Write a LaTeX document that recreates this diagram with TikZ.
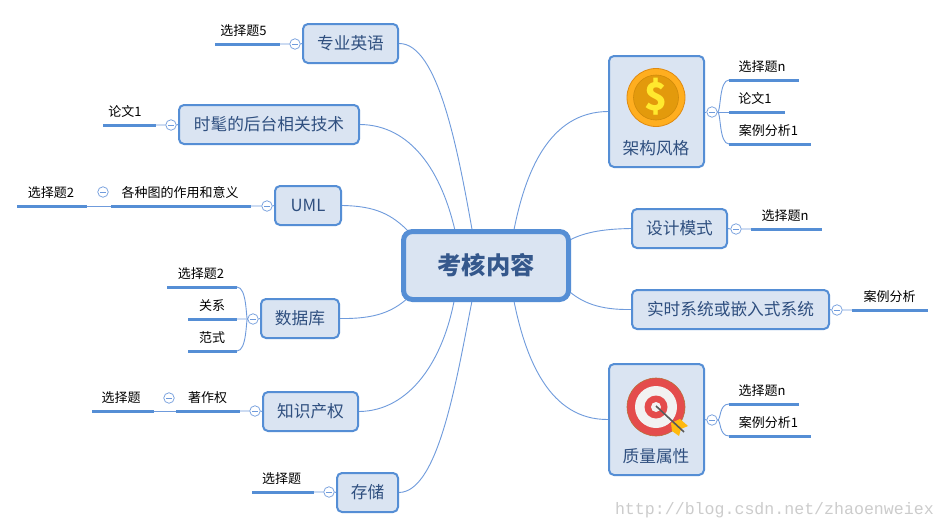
\documentclass[tikz,border=0pt]{standalone}
\usepackage{fontspec}
\setmainfont{Noto Sans CJK SC}
\newfontfamily\wmfont{Liberation Mono}
\definecolor{boxfill}{HTML}{DAE4F2}
\definecolor{boxline}{HTML}{558ED5}
\definecolor{boxtext}{HTML}{2F4F7F}
\definecolor{thinline}{HTML}{6F9BDC}
\definecolor{coinouter}{HTML}{FFAE1F}
\definecolor{coinedge}{HTML}{E08A10}
\definecolor{coininner}{HTML}{E39A0C}
\definecolor{coinedgein}{HTML}{CF8A0A}
\definecolor{coinsign}{HTML}{FFE92E}
\definecolor{targetred}{HTML}{E44C4C}
\definecolor{targetedge}{HTML}{B9703A}
\definecolor{targetwhite}{HTML}{F2F2F2}
\definecolor{feather}{HTML}{FFB90F}
\pgfdeclarelayer{paper}
\pgfdeclarelayer{links}
\pgfsetlayers{paper,links,main}
\tikzset{
  x=1pt,y=-1pt,
  basebox/.style={draw=boxline,fill=boxfill,rounded corners=5pt,line width=2pt,inner sep=0pt,text=boxtext,font=\fontsize{16.7}{18}\selectfont},
  rootbox/.style={basebox,line width=5pt,rounded corners=9pt,text=boxtext!85!boxline,font=\fontsize{24.3}{26}\bfseries\selectfont},
  boxlabel/.style={inner sep=0pt,text=boxtext,font=\fontsize{16.7}{18}\selectfont},
  leaftext/.style={inner sep=0pt,text=black,font=\fontsize{13}{14}\selectfont},
  leafline/.style={draw=boxline,line width=3pt},
  thin link/.style={draw=thinline,line width=0.9pt},
  foldc/.style={circle,draw=thinline,fill=white,line width=0.7pt,minimum size=10.5pt,inner sep=0pt,
    path picture={\draw[thinline,line width=0.7pt] ([xshift=2.5pt]path picture bounding box.west) -- ([xshift=-2.5pt]path picture bounding box.east);}},
}
\newcommand{\leafitem}[6]{%
  \coordinate (#1L) at (#2,#4);
  \coordinate (#1R) at (#3,#4);
  \draw[leafline] (#1L) -- (#1R);
  \node[leaftext] (#1) at (#5,#4-13) {#6};
}
\begin{document}
\begin{tikzpicture}
\useasboundingbox (0,0) rectangle (946,530);
\begin{pgfonlayer}{paper}
\fill[white] (0,0) rectangle (946,530);
\end{pgfonlayer}

% main boxes
\node[rootbox,minimum width=165pt,minimum height=68pt] (root) at (486,265.5) {考核内容};
\node[basebox,minimum width=95pt,minimum height=39pt] (eng) at (350.5,43.5) {专业英语};
\node[basebox,minimum width=180pt,minimum height=39pt] (tech) at (269,124.5) {时髦的后台相关技术};
\node[basebox,minimum width=66pt,minimum height=39pt] (uml) at (308,205.5) {UML};
\node[basebox,minimum width=78pt,minimum height=39pt] (db) at (300,318.5) {数据库};
\node[basebox,minimum width=95pt,minimum height=39pt] (ip) at (310.5,411.5) {知识产权};
\node[basebox,minimum width=61pt,minimum height=39pt] (store) at (367.5,492.5) {存储};
\node[basebox,minimum width=95pt,minimum height=111pt] (arch) at (656.5,111.5) {};
\node[boxlabel] (archT) at (656,148) {架构风格};
\node[basebox,minimum width=95pt,minimum height=39pt] (dp) at (679.5,228.5) {设计模式};
\node[basebox,minimum width=197pt,minimum height=39pt] (rt) at (730.5,309.5) {实时系统或嵌入式系统};
\node[basebox,minimum width=95pt,minimum height=111pt] (qa) at (656.5,419.5) {};
\node[boxlabel] (qaT) at (656,456) {质量属性};

% links to root
\begin{pgfonlayer}{links}
\draw[thin link] (eng.east) .. controls (438,43) and (458,150) .. ([xshift=-13pt,yshift=-6pt]root.north);
\draw[thin link] (tech.east) .. controls (410,125) and (442,170) .. ([xshift=-30pt,yshift=-6pt]root.north);
\draw[thin link] (uml.east) .. controls (375,206) and (392,214) .. ([xshift=-76pt,yshift=-4pt]root.north);
\draw[thin link] (db.east) .. controls (375,319) and (392,312) .. ([xshift=-78pt,yshift=4pt]root.south);
\draw[thin link] (ip.east) .. controls (410,411) and (444,360) .. ([xshift=-31pt,yshift=6pt]root.south);
\draw[thin link] (store.east) .. controls (440,492) and (458,370) .. ([xshift=-13pt,yshift=6pt]root.south);
\draw[thin link] (arch.west) .. controls (550,112) and (525,170) .. ([xshift=27pt,yshift=-6pt]root.north);
\draw[thin link] (dp.west) .. controls (600,229) and (582,233) .. ([xshift=-4pt,yshift=24pt]root.east);
\draw[thin link] (rt.west) .. controls (600,310) and (582,303) .. ([xshift=-4pt,yshift=-24pt]root.east);
\draw[thin link] (qa.west) .. controls (550,420) and (525,360) .. ([xshift=27pt,yshift=6pt]root.south);
\end{pgfonlayer}

% leaves
\leafitem{l5}{215}{280}{44}{243.5}{选择题5}
\leafitem{lw}{103}{156}{125}{125}{论文1}
\leafitem{ux}{17}{87}{206}{51}{选择题2}
\leafitem{ug}{111}{251}{206}{180}{各种图的作用和意义}
\leafitem{dx}{167}{237}{287}{201}{选择题2}
\leafitem{dg}{188}{237}{319}{212}{关系}
\leafitem{df}{188}{237}{351}{212}{范式}
\leafitem{ix}{92}{154}{411}{121}{选择题}
\leafitem{iz}{176}{240}{411}{207.5}{著作权}
\leafitem{sx}{252}{314}{492}{281.5}{选择题}
\leafitem{ax}{729}{799}{80}{762}{选择题n}
\leafitem{aw}{729}{785}{112}{755}{论文1}
\leafitem{ac}{729}{811}{144}{768.5}{案例分析1}
\leafitem{px}{751}{822}{229}{785}{选择题n}
\leafitem{ra}{852}{928}{310}{889.5}{案例分析}
\leafitem{qx}{729}{799}{404}{762}{选择题n}
\leafitem{qc}{729}{811}{436}{768.5}{案例分析1}

% fold circles
\node[foldc] (c1) at (295,44) {};
\node[foldc] (c2) at (171,125) {};
\node[foldc] (c3) at (267,206) {};
\node[foldc] (c3b) at (103,192) {};
\node[foldc] (c4) at (253,319) {};
\node[foldc] (c5) at (255,411) {};
\node[foldc] (c5b) at (169,398) {};
\node[foldc] (c6) at (329,492) {};
\node[foldc] (c7) at (712,112) {};
\node[foldc] (c8) at (736,229) {};
\node[foldc] (c9) at (837,310) {};
\node[foldc] (c10) at (712,420) {};

% short links
\draw[thin link] (l5R) -- (c1.west) (c1.east) -- (eng.west);
\draw[thin link] (lwR) -- (c2.west) (c2.east) -- (tech.west);
\draw[thin link] (ugR) -- (c3.west) (c3.east) -- (uml.west);
\draw[thin link] (uxR) -- (ugL);
\draw[thin link] (c4.east) -- (db.west) (c4.west) -- (dgR);
\draw[thin link] (c4.west) .. controls (246,319) and (247,287) .. (dxR);
\draw[thin link] (c4.west) .. controls (246,319) and (247,351) .. (dfR);
\draw[thin link] (izR) -- (c5.west) (c5.east) -- (ip.west);
\draw[thin link] (ixR) -- (izL);
\draw[thin link] (sxR) -- (c6.west) (c6.east) -- (store.west);
\draw[thin link] (arch.east |- c7) -- (c7.west) (c7.east) -- (awL);
\draw[thin link] (c7.east) .. controls (721,112) and (719,80) .. (axL);
\draw[thin link] (c7.east) .. controls (721,112) and (719,144) .. (acL);
\draw[thin link] (dp.east) -- (c8.west) (c8.east) -- (pxL);
\draw[thin link] (rt.east) -- (c9.west) (c9.east) -- (raL);
\draw[thin link] (qa.east) -- (c10.west);
\draw[thin link] (c10.east) .. controls (721,420) and (719,404) .. (qxL);
\draw[thin link] (c10.east) .. controls (721,420) and (719,436) .. (qcL);

% coin icon
\path[fill=coinouter,draw=coinedge,line width=0.8pt] (656,97.5) circle (29);
\path[fill=coininner,draw=coinedgein,line width=0.6pt] (656,97.5) circle (22.5);
\node[inner sep=0pt,text=coinsign,font=\fontsize{38}{40}\bfseries\selectfont] (dollar) at (656,97) {\$};

% target icon
\path[fill=targetred,draw=targetedge,line width=0.6pt] (656,407) circle (29);
\fill[targetwhite] (656,407) circle (21);
\fill[targetred] (656,407) circle (11.5);
\fill[targetwhite] (656,407) circle (5);
\fill[feather] (671,423) -- (680,419) -- (688,426) -- (681,429) -- (679,436) -- (672,431) -- cycle;
\draw[black!65,line width=1.6pt] (656,406) -- (684,432);

% watermark
\node[inner sep=0pt,anchor=east,text=black!20,font=\wmfont\fontsize{16.6}{18}\selectfont] (wm) at (934,510) {http://blog.csdn.net/zhaoenweiex};
\end{tikzpicture}
\end{document}
